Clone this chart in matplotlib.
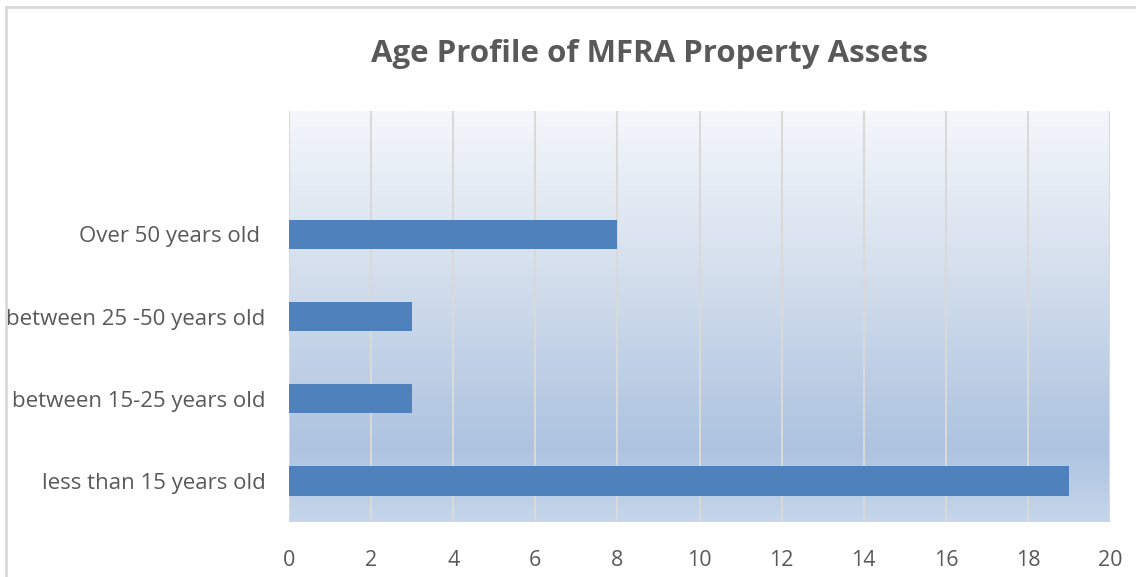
import numpy as np
import matplotlib
matplotlib.use("Agg")
import matplotlib.pyplot as plt
from matplotlib.colors import LinearSegmentedColormap

# ---- data ----
categories = ["less than 15 years old", "between 15-25 years old",
              "between 25 -50 years old", "Over 50 years old ", ""]
values = [19, 3, 3, 8, 0]
x_ticks = [0, 2, 4, 6, 8, 10, 12, 14, 16, 18, 20]
title = "Age Profile of MFRA Property Assets"

plt.rcParams["font.family"] = ["Open Sans", "DejaVu Sans"]
text_col = "#595959"

fig = plt.figure(figsize=(11.36, 5.77), dpi=100)
ax = fig.add_axes([289 / 1136, 1 - 522 / 577, (1110 - 289) / 1136, (522 - 111) / 577])

# gradient background of the plot area
grad = LinearSegmentedColormap.from_list(
    "bg", [(0.0, "#f4f7fb"), (0.42, "#d2ddec"), (0.82, "#adc3e0"), (1.0, "#c6d6eb")])
ax.imshow(np.linspace(0, 1, 256).reshape(-1, 1), cmap=grad, aspect="auto",
          extent=[0, 20, -0.5, len(categories) - 0.5], origin="upper", zorder=0)

ypos = np.arange(len(categories))
ax.barh(ypos[:4], values[:4], height=0.36, color="#4f81bd", zorder=2)

ax.set_xlim(0, 20)
ax.set_ylim(-0.5, len(categories) - 0.5)
ax.set_xticks(x_ticks)
ax.set_yticks(ypos)
ax.set_yticklabels(categories)
ax.grid(axis="x", color="#d9d9d9", linewidth=1.5, zorder=1)
ax.set_axisbelow(True)
for s in ax.spines.values():
    s.set_visible(False)
ax.tick_params(axis="both", length=0, colors=text_col)
ax.tick_params(axis="x", pad=20, labelsize=15.5)
ax.tick_params(axis="y", pad=17, labelsize=16)

fig.text(650 / 1136, 1 - 54 / 577, title, ha="center", va="center",
         fontsize=22.5, fontweight="bold", color=text_col)

# outer chart border (top and left visible)
fig.add_artist(plt.Line2D([6 / 1136, 1.01], [1 - 7 / 577] * 2, color="#d9d9d9", lw=2))
fig.add_artist(plt.Line2D([6 / 1136] * 2, [-0.01, 1 - 7 / 577], color="#d9d9d9", lw=2))

fig.savefig("out.png", dpi=100)
